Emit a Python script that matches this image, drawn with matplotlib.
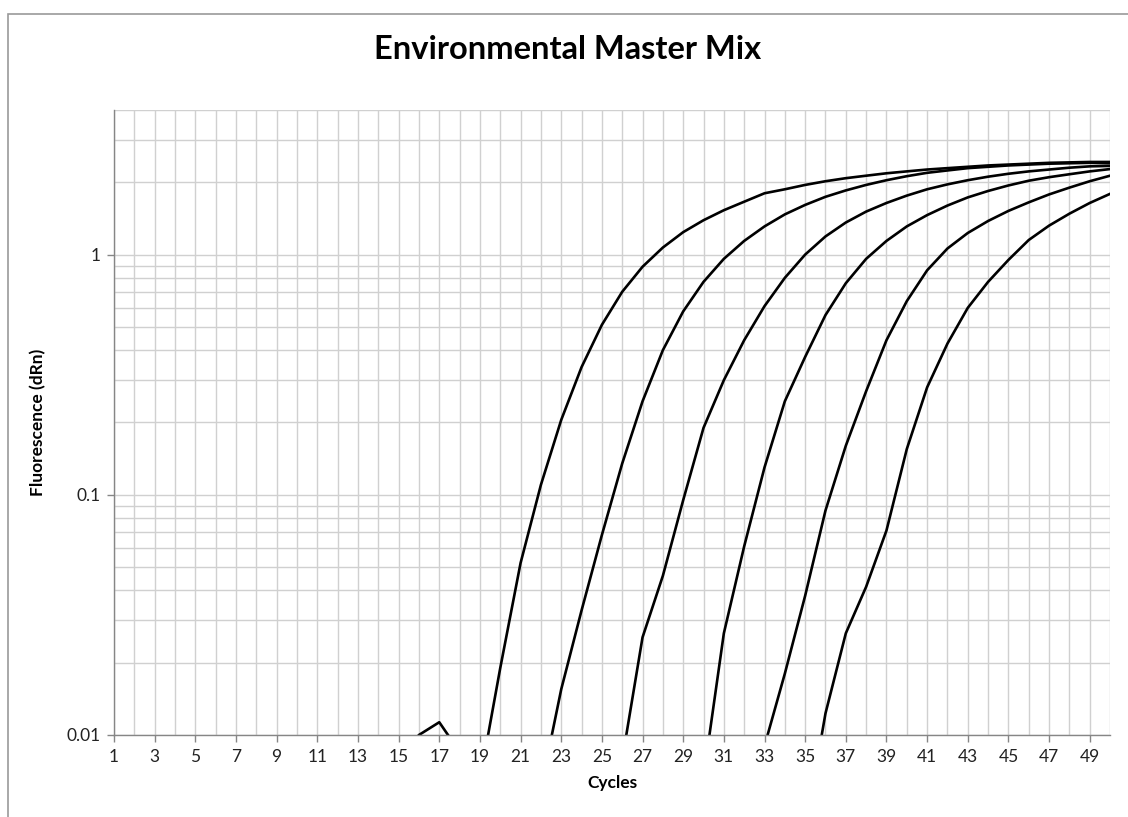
import matplotlib.pyplot as plt
from matplotlib.patches import Rectangle

plt.rcParams['font.family'] = ['Lato', 'DejaVu Sans']

# qPCR amplification data, dRn per cycle (baseline below 0.01 is not shown)
cycles = list(range(1, 51))
x_labels = [str(c) for c in range(1, 51, 2)]
y_major = [0.01, 0.1, 1]
y_labels = ['0.01', '0.1', '1']

run1_start = 15
run1 = [0.0080, 0.0100, 0.0113, 0.0085, 0.0065, 0.019, 0.052, 0.11, 0.205,
        0.34, 0.51, 0.70, 0.89, 1.07, 1.24, 1.39, 1.53, 1.66, 1.80, 1.87,
        1.95, 2.02, 2.08, 2.13, 2.18, 2.22, 2.26, 2.29, 2.32, 2.35, 2.37,
        2.39, 2.41, 2.42, 2.43, 2.43]

run2_start = 22
run2 = [0.006, 0.0155, 0.033, 0.068, 0.135, 0.245, 0.40, 0.58, 0.77, 0.96,
        1.14, 1.31, 1.47, 1.61, 1.74, 1.85, 1.95, 2.04, 2.12, 2.19, 2.24,
        2.29, 2.32, 2.35, 2.37, 2.39, 2.40, 2.41, 2.40]

run3_start = 26
run3 = [0.0079, 0.0255, 0.046, 0.095, 0.19, 0.30, 0.44, 0.61, 0.80, 1.00,
        1.19, 1.36, 1.51, 1.64, 1.76, 1.87, 1.96, 2.04, 2.11, 2.17, 2.22,
        2.26, 2.30, 2.33, 2.34]

run4_start = 30
run4 = [0.0067, 0.0265, 0.061, 0.13, 0.245, 0.375, 0.56, 0.76, 0.96, 1.14,
        1.31, 1.46, 1.60, 1.73, 1.84, 1.94, 2.03, 2.10, 2.16, 2.22, 2.27]

run5_start = 33
run5 = [0.009, 0.018, 0.038, 0.086, 0.16, 0.27, 0.44, 0.64, 0.86, 1.06,
        1.23, 1.38, 1.52, 1.65, 1.78, 1.90, 2.02, 2.13]

run6_start = 35
run6 = [0.004, 0.0123, 0.0265, 0.0414, 0.071, 0.155, 0.28, 0.426, 0.60,
        0.77, 0.95, 1.15, 1.32, 1.48, 1.64, 1.79]

runs = [(run1_start, run1), (run2_start, run2), (run3_start, run3),
        (run4_start, run4), (run5_start, run5), (run6_start, run6)]

grid_c = '#d0d0d0'
axis_c = '#868686'

fig = plt.figure(figsize=(11.28, 8.17), dpi=100)
ax = fig.add_axes([0.1011, 0.1004, 0.8830, 0.7650])

# chart area border (Excel style)
fig.patches.append(Rectangle((8 / 1128, -0.05), 1.2, 1 - 14 / 817 + 0.05,
                             transform=fig.transFigure, fill=False,
                             edgecolor='#9a9a9a', lw=1.2))

for start, vals in runs:
    xs = list(range(start, start + len(vals)))
    ax.plot(xs, vals, color='black', lw=1.9, solid_joinstyle='round')

ax.set_yscale('log')
ax.set_xlim(1, 50)
ax.set_ylim(0.01, 4)

ax.set_xticks(range(1, 51, 2))
ax.set_xticklabels(x_labels)
ax.set_xticks(cycles, minor=True)
ax.set_yticks(y_major)
ax.set_yticklabels(y_labels)
minor_y = [m * 10 ** e for e in (-2, -1, 0) for m in range(2, 10) if m * 10 ** e <= 4]
ax.set_yticks(minor_y, minor=True)
ax.yaxis.set_minor_formatter(plt.NullFormatter())

ax.grid(which='both', color=grid_c, lw=1.0)
ax.set_axisbelow(True)
ax.tick_params(which='major', length=5, width=1, color=axis_c,
               labelsize=12.5, pad=5, labelcolor='#222222')
ax.tick_params(which='minor', length=0)

for side in ('top', 'right'):
    ax.spines[side].set_visible(False)
for side in ('left', 'bottom'):
    ax.spines[side].set_color(axis_c)
    ax.spines[side].set_linewidth(1.0)

ax.set_xlabel('Cycles', fontsize=12.5, fontweight='bold', labelpad=7)
ax.set_ylabel('Fluorescence (dRn)', fontsize=12.5, fontweight='bold', labelpad=14)
fig.text(0.503, 0.939, 'Environmental Master Mix', ha='center', va='center',
         fontsize=23.5, fontweight='bold')

fig.savefig('out.png', dpi=100, facecolor='white')
